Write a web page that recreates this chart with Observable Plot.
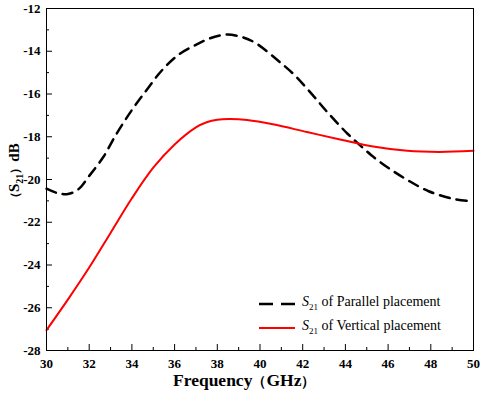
<!DOCTYPE html>
<html><head><meta charset="utf-8">
<script src="https://cdn.jsdelivr.net/npm/d3@7"></script>
<script src="https://cdn.jsdelivr.net/npm/@observablehq/plot@0.6"></script>
<style>
body{margin:0;background:#fff;}
#chart{position:relative;width:482px;height:395px;}
.legend{position:absolute;left:259px;top:292px;font-family:"Liberation Serif","Times New Roman",serif;font-size:14px;color:#000;line-height:24px;}
.legend .row{display:flex;align-items:center;height:24px;}
.legend svg{margin-right:7px;}
</style></head><body><div id="chart"></div>
<script>
const freqParallel = [30, 30.5, 31, 31.5, 32, 32.66, 33.28, 34, 34.7, 35.4, 36.2, 37, 37.7, 38.45, 39.2, 39.8, 40.8, 41.6, 42.45, 43.2, 44.1, 44.6, 45.2, 46, 46.9, 47.9, 49.1, 49.7];
const s21Parallel = [-20.43, -20.63, -20.68, -20.45, -19.83, -18.95, -17.86, -16.75, -15.8, -14.9, -14.15, -13.7, -13.38, -13.22, -13.35, -13.62, -14.4, -15.1, -16.03, -16.9, -17.86, -18.32, -18.85, -19.45, -20.02, -20.55, -20.92, -21.0];
const freqVertical = [30, 31, 32, 33, 34, 35, 36, 37, 37.5, 38, 38.6, 39.4, 40.6, 42.2, 43.8, 45.3, 46.9, 48.4, 50];
const s21Vertical = [-27.05, -25.62, -24.12, -22.5, -20.88, -19.45, -18.36, -17.56, -17.32, -17.2, -17.17, -17.22, -17.42, -17.78, -18.14, -18.46, -18.66, -18.71, -18.66];
const xTicks = [30, 32, 34, 36, 38, 40, 42, 44, 46, 48, 50];
const xMinor = [31, 33, 35, 37, 39, 41, 43, 45, 47, 49];
const yTicks = [-28, -26, -24, -22, -20, -18, -16, -14, -12];
const yMinor = [-27, -25, -23, -21, -19, -17, -15, -13];
const seriesNames = ["Parallel placement", "Vertical placement"];
const xLabelMain = "Frequency";
const xLabelUnit = "GHz";
const yLabelUnit = "dB";

const W = 482, H = 395, mL = 46, mR = 9, mT = 8, mB = 45;
const innerW = W - mL - mR, innerH = H - mT - mB;
const serif = "'Liberation Serif','Times New Roman','DejaVu Serif',serif";

const parallel = freqParallel.map((f, i) => ({f, v: s21Parallel[i]}));
const vertical = freqVertical.map((f, i) => ({f, v: s21Vertical[i]}));

const plot = Plot.plot({
  width: W, height: H,
  marginLeft: mL, marginRight: mR, marginTop: mT, marginBottom: mB,
  style: {fontFamily: serif, fontSize: "13px", fontWeight: "bold", color: "#000", background: "#fff"},
  x: {domain: [30, 50]},
  y: {domain: [-28, -12]},
  marks: [
    Plot.axisX({ticks: xTicks, tickSize: 0, tickPadding: 8, label: null, tickFormat: d => String(d)}),
    Plot.axisY({ticks: yTicks, tickSize: 0, tickPadding: 6, label: null, tickFormat: d => String(d).replace("−", "-")}),
    Plot.tickX(xTicks, {x: d => d, insetTop: innerH - 6, stroke: "#000"}),
    Plot.tickX(xMinor, {x: d => d, insetTop: innerH - 3, stroke: "#000"}),
    Plot.tickY(yTicks, {y: d => d, insetRight: innerW - 6, stroke: "#000"}),
    Plot.tickY(yMinor, {y: d => d, insetRight: innerW - 3, stroke: "#000"}),
    Plot.line(parallel, {x: "f", y: "v", stroke: "#000", strokeWidth: 2.5, strokeDasharray: "10,7", curve: "catmull-rom"}),
    Plot.line(vertical, {x: "f", y: "v", stroke: "#ff0000", strokeWidth: 2, curve: "catmull-rom"}),
    Plot.frame({stroke: "#000", strokeWidth: 1})
  ]
});

const svg = d3.select(plot);
const xl = svg.append("text")
  .attr("x", 173).attr("y", 386)
  .attr("text-anchor", "start")
  .attr("font-family", serif)
  .attr("font-size", 17.5).attr("font-weight", "bold").attr("fill", "#000");
xl.append("tspan").text(xLabelMain);
xl.append("tspan").attr("font-size", 14).text("（");
xl.append("tspan").text(xLabelUnit);
xl.append("tspan").attr("font-size", 14).text("）");

const yl = svg.append("text")
  .attr("transform", "translate(19,204) rotate(-90)")
  .attr("text-anchor", "start")
  .attr("font-family", serif)
  .attr("font-size", 15).attr("font-weight", "bold").attr("fill", "#000");
yl.append("tspan").attr("font-size", 12).text("（");
yl.append("tspan").text("S");
yl.append("tspan").attr("font-size", 10).attr("dy", 4).text("21");
yl.append("tspan").attr("font-size", 12).attr("dy", -4).text("）");
yl.append("tspan").text(yLabelUnit);

const chart = document.getElementById("chart");
chart.appendChild(plot);

const legend = document.createElement("div");
legend.className = "legend";
const styles = [{stroke: "#000", dash: "14,8", w: 2.5}, {stroke: "#ff0000", dash: null, w: 2}];
seriesNames.forEach((name, i) => {
  const row = document.createElement("div");
  row.className = "row";
  const s = styles[i];
  row.innerHTML = `<svg width="36" height="6"><line x1="0" x2="36" y1="3" y2="3" stroke="${s.stroke}" stroke-width="${s.w}" ${s.dash ? `stroke-dasharray="${s.dash}"` : ""}></line></svg><span><i>S</i><sub style="font-size:9px">21</sub> of ${name}</span>`;
  legend.appendChild(row);
});
chart.appendChild(legend);
</script>
</body></html>
